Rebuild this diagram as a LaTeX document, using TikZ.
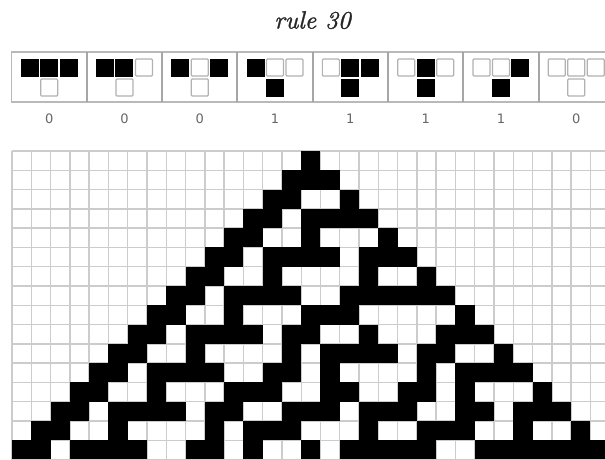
\documentclass[tikz,border=0pt]{standalone}
\usepackage{fontspec}
\newfontfamily\bitfont{DejaVu Sans}
\newfontface\titlefont{lmroman10-italic.otf}[FakeBold=1.2]
\usetikzlibrary{positioning}
\tikzset{
  gridline/.style={draw=gray!40, line width=1.4pt},
  alive/.style={fill=black},
  panelframe/.style={draw=gray!55, line width=1.5pt},
  divider/.style={draw=gray!70, line width=2pt},
  iconcell/.style={minimum width=18pt, minimum height=18pt, inner sep=0pt, outer sep=0pt},
  cell1/.style={iconcell, fill=black},
  cell0/.style={iconcell, draw=gray!60, line width=1.2pt, rounded corners=1pt, fill=white,
    minimum width=17pt, minimum height=17pt},
  rulebit/.style={font=\bitfont\fontsize{13}{14}\selectfont, text=black!60, inner sep=0pt},
  titletext/.style={font=\titlefont\fontsize{25}{28}\selectfont, text=black!85, inner sep=0pt}
}

\begin{document}
\begin{tikzpicture}[x=1pt, y=-1pt]
  \clip (0,0) rectangle (605,459);
  \node[titletext, anchor=base] (title) at (312.5,28.5) {rule 30};

  % the eight neighbourhoods and what they give
  \draw[panelframe] (11.5,52) rectangle (620,102);
  \foreach \i in {1,...,7}
    \draw[divider] (11.5+75.3*\i,52) -- (11.5+75.3*\i,102);
  \foreach \a/\b/\c/\out [count=\i from 0] in
      {1/1/1/0, 1/1/0/0, 1/0/1/0, 1/0/0/1, 0/1/1/1, 0/1/0/1, 0/0/1/1, 0/0/0/0}{
    \pgfmathsetmacro\xc{11.5+75.3*\i+37.65}
    \node[cell\a] (lf\i) at (\xc-19.5,67.5) {};
    \node[cell\b] (md\i) at (\xc,67.5) {};
    \node[cell\c] (rt\i) at (\xc+19.5,67.5) {};
    \node[cell\out] (nw\i) at (\xc,87.5) {};
    \node[rulebit] (bit\i) at (\xc,118.5) {\out};
  }

  % evolution grid, 16 steps from one black cell
  \foreach \k in {0,...,31}
    \draw[gridline] (12+19.28*\k,151) -- (12+19.28*\k,460);
  \foreach \r in {0,...,16}
    \draw[gridline] (12,151+19.28*\r) -- (620,151+19.28*\r);
  \foreach \cells [count=\r from 0] in {
      {1},
      {1,1,1},
      {1,1,0,0,1},
      {1,1,0,1,1,1,1},
      {1,1,0,0,1,0,0,0,1},
      {1,1,0,1,1,1,1,0,1,1,1},
      {1,1,0,0,1,0,0,0,0,1,0,0,1},
      {1,1,0,1,1,1,1,0,0,1,1,1,1,1,1},
      {1,1,0,0,1,0,0,0,1,1,1,0,0,0,0,0,1},
      {1,1,0,1,1,1,1,0,1,1,0,0,1,0,0,0,1,1,1},
      {1,1,0,0,1,0,0,0,0,1,0,1,1,1,1,0,1,1,0,0,1},
      {1,1,0,1,1,1,1,0,0,1,1,0,1,0,0,0,0,1,0,1,1,1,1},
      {1,1,0,0,1,0,0,0,1,1,1,0,0,1,1,0,0,1,1,0,1,0,0,0,1},
      {1,1,0,1,1,1,1,0,1,1,0,0,1,1,1,0,1,1,1,0,0,1,1,0,1,1,1},
      {1,1,0,0,1,0,0,0,0,1,0,1,1,1,0,0,0,1,0,0,1,1,1,0,0,1,0,0,1},
      {1,1,0,1,1,1,1,0,0,1,1,0,1,0,0,1,0,1,1,1,1,1,0,0,1,1,1,1,1,1,1}}{
    \foreach \v [count=\k from 0] in \cells {
      \ifnum\v=1
        \fill[alive] (12+19.28*15-19.28*\r+19.28*\k,151+19.28*\r)
          rectangle ++(19.28,19.28);
      \fi
    }
  }
\end{tikzpicture}
\end{document}
